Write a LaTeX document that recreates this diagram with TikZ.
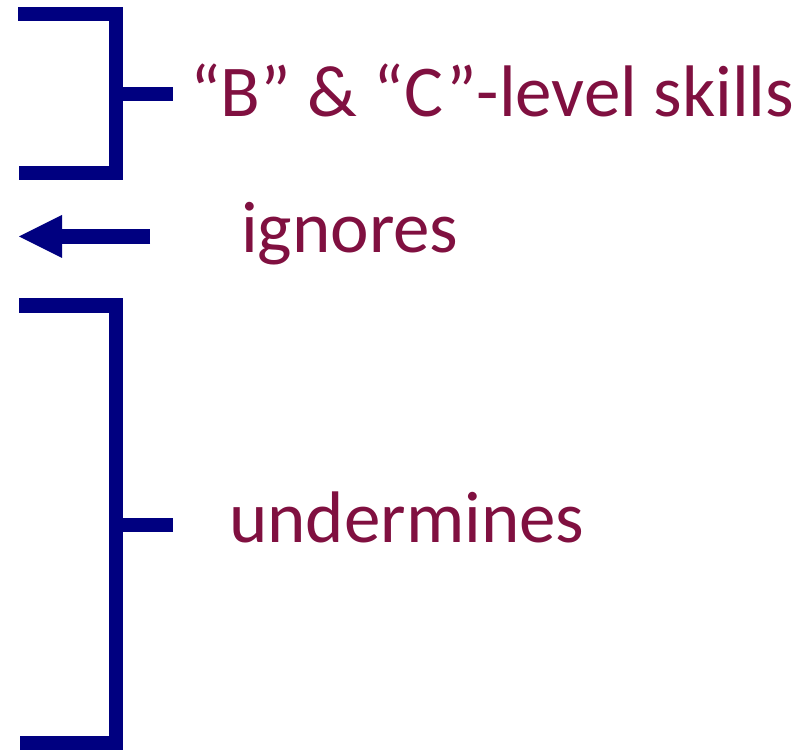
\documentclass[tikz,border=0pt]{standalone}
\usepackage{fontspec}
\setmainfont{Carlito}
\definecolor{navy}{RGB}{0,0,128}
\definecolor{wine}{RGB}{128,16,64}
\begin{document}
\begin{tikzpicture}[x=1pt,y=-1pt,
  brk/.style={draw=navy,line width=14pt,line cap=butt,line join=miter},
  lbl/.style={text=wine,anchor=base west,inner sep=0pt,font=\fontsize{73}{88}\selectfont}]
\useasboundingbox (0,0) rectangle (811,751);
% top bracket
\coordinate (t1) at (18,14);
\coordinate (t2) at (116,14);
\coordinate (t3) at (116,173);
\coordinate (t4) at (19,173);
\coordinate (tm) at (116,94);
\coordinate (te) at (173,94);
\draw[brk] (t1) -- (t2) -- (t3) -- (t4);
\draw[brk] (tm) -- (te);
% arrow
\coordinate (a1) at (150,236.5);
\coordinate (a2) at (60,236.5);
\coordinate (tip) at (19,236.5);
\draw[navy,line width=15pt] (a1) -- (a2);
\fill[navy] (tip) -- (62,215) -- (62,258) -- cycle;
% bottom bracket
\coordinate (b1) at (19,305.5);
\coordinate (b2) at (116,305.5);
\coordinate (b3) at (116,743);
\coordinate (b4) at (20,743);
\coordinate (bm) at (116,524.5);
\coordinate (be) at (173,524.5);
\draw[brk] (b1) -- (b2) -- (b3) -- (b4);
\draw[brk] (bm) -- (be);
% labels
\node[lbl] (l1) at (190,117) {“B” \& “C”-level skills};
\node[lbl] (l2) at (241,253) {ignores};
\node[lbl] (l3) at (229,542) {undermines};
\end{tikzpicture}
\end{document}
